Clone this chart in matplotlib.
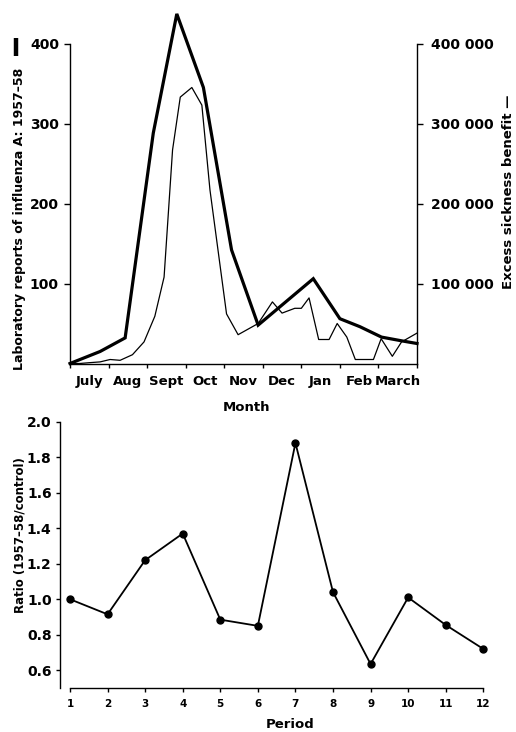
import matplotlib
matplotlib.use("Agg")
import matplotlib.pyplot as plt
from matplotlib.lines import Line2D

plt.rcParams['font.family'] = ['DejaVu Sans']
plt.rcParams['font.weight'] = 'bold'

# ---- Top panel data (x in months from start of July) ----
months = ["July", "Aug", "Sept", "Oct", "Nov", "Dec", "Jan", "Feb", "March"]

lab_x = [0, 0.25, 0.5, 0.78, 1.04, 1.3, 1.62, 1.92, 2.2, 2.44, 2.66, 2.86, 3.16,
         3.42, 3.63, 4.06, 4.36, 4.88, 5.25, 5.5, 5.83, 6.0, 6.2, 6.45, 6.72,
         6.93, 7.18, 7.4, 7.87, 8.07, 8.36, 8.6, 9.0]
lab_reports = [0, 0, 1, 2, 5, 4, 11, 27, 59, 108, 267, 333, 345,
               323, 217, 62, 36, 50, 77, 63, 69, 69, 82, 30, 30,
               50, 33, 5, 5, 31, 9, 27, 38]

benefit_x = [0, 0.78, 1.43, 2.16, 2.77, 3.46, 4.19, 4.88, 6.31, 7.0, 7.52, 8.08, 8.64, 9.0]
benefit = [0, 15000, 32000, 288000, 437000, 345000, 142000, 48000, 106000,
           56000, 46000, 33000, 28000, 25000]

# ---- Bottom panel data ----
periods = [1, 2, 3, 4, 5, 6, 7, 8, 9, 10, 11, 12]
ratio = [1.00, 0.915, 1.22, 1.37, 0.885, 0.85, 1.88, 1.04, 0.635, 1.01, 0.855, 0.72]

W, H = 516, 732
fig = plt.figure(figsize=(W / 100, H / 100), dpi=100)

def fx(px):
    return px / W

def fy(py):
    return 1 - py / H

# ---------------- Top panel ----------------
x0, x1 = 70, 417
y0, y400 = 363.5, 43.5
ax = fig.add_axes([fx(x0), fy(y0), (x1 - x0) / W, (y0 - y400) / H])
ax.set_xlim(0, 9)
ax.set_ylim(0, 400)
ax.plot(lab_x, lab_reports, color='black', lw=0.9, clip_on=False, zorder=3)

ax2 = ax.twinx()
ax2.set_ylim(0, 400000)
ax2.plot(benefit_x, benefit, color='black', lw=2.3, clip_on=False,
         solid_joinstyle='miter', zorder=4)

for a in (ax, ax2):
    a.spines['top'].set_visible(False)
    for s in a.spines.values():
        s.set_linewidth(1.0)
ax.spines['right'].set_visible(False)
ax2.spines['left'].set_visible(False)
ax2.spines['bottom'].set_visible(False)

ax.set_yticks([100, 200, 300, 400])
ax.tick_params(axis='y', direction='out', length=4, width=1, pad=4, labelsize=10)
ax2.set_yticks([100000, 200000, 300000, 400000])
ax2.set_yticklabels(["100 000", "200 000", "300 000", "400 000"])
ax2.tick_params(axis='y', direction='out', length=4, width=1, pad=6, labelsize=10)

ax.set_xticks(range(10))
ax.set_xticklabels([])
ax.set_xticks([i + 0.5 for i in range(9)], minor=True)
ax.set_xticklabels(months, minor=True)
ax.tick_params(axis='x', which='major', direction='out', length=3, width=1)
ax.tick_params(axis='x', which='minor', length=0, pad=8, labelsize=9.5)

fig.text(fx(247), fy(408), "Month", ha='center', va='center', fontsize=9.5)
fig.text(fx(20), fy(219), "Laboratory reports of influenza A: 1957\u201358",
         rotation=90, ha='center', va='center', fontsize=9)
fig.add_artist(Line2D([fx(16), fx(16)], [fy(38), fy(56)], color='black',
                      lw=3.2, solid_capstyle='butt'))
fig.text(fx(508), fy(192), "Excess sickness benefit \u2014",
         rotation=90, ha='center', va='center', fontsize=9.5)

# ---------------- Bottom panel ----------------
bx_left = 60
p1_px, p12_px = 70, 483.3
unit = (p12_px - p1_px) / 11
xmin = 1 - (p1_px - bx_left) / unit
bx_right = 492
xmax = 12 + (bx_right - p12_px) / unit
y2_px, y05_px = 421.7, 688
bax = fig.add_axes([fx(bx_left), fy(y05_px), (bx_right - bx_left) / W, (y05_px - y2_px) / H])
bax.set_xlim(xmin, xmax)
bax.set_ylim(0.5, 2.0)
bax.plot(periods, ratio, color='black', lw=1.3, marker='o', markersize=5,
         clip_on=False)
bax.spines['top'].set_visible(False)
bax.spines['right'].set_visible(False)
bax.spines['bottom'].set_bounds(1, 12)
bax.spines['left'].set_bounds(0.5, 2.0)
for s in bax.spines.values():
    s.set_linewidth(1.0)
bax.set_xticks(periods)
bax.set_yticks([0.6, 0.8, 1.0, 1.2, 1.4, 1.6, 1.8, 2.0])
bax.set_yticklabels(["0.6", "0.8", "1.0", "1.2", "1.4", "1.6", "1.8", "2.0"])
bax.tick_params(axis='x', direction='out', length=3, width=1, pad=5, labelsize=7.5)
bax.tick_params(axis='y', direction='out', length=3, width=1, pad=3, labelsize=10)
fig.text(fx(290), fy(724), "Period", ha='center', va='center', fontsize=9.5)
fig.text(fx(20), fy(535), "Ratio (1957\u201358/control)", rotation=90,
         ha='center', va='center', fontsize=8.5)

fig.savefig("out.png", dpi=100)
